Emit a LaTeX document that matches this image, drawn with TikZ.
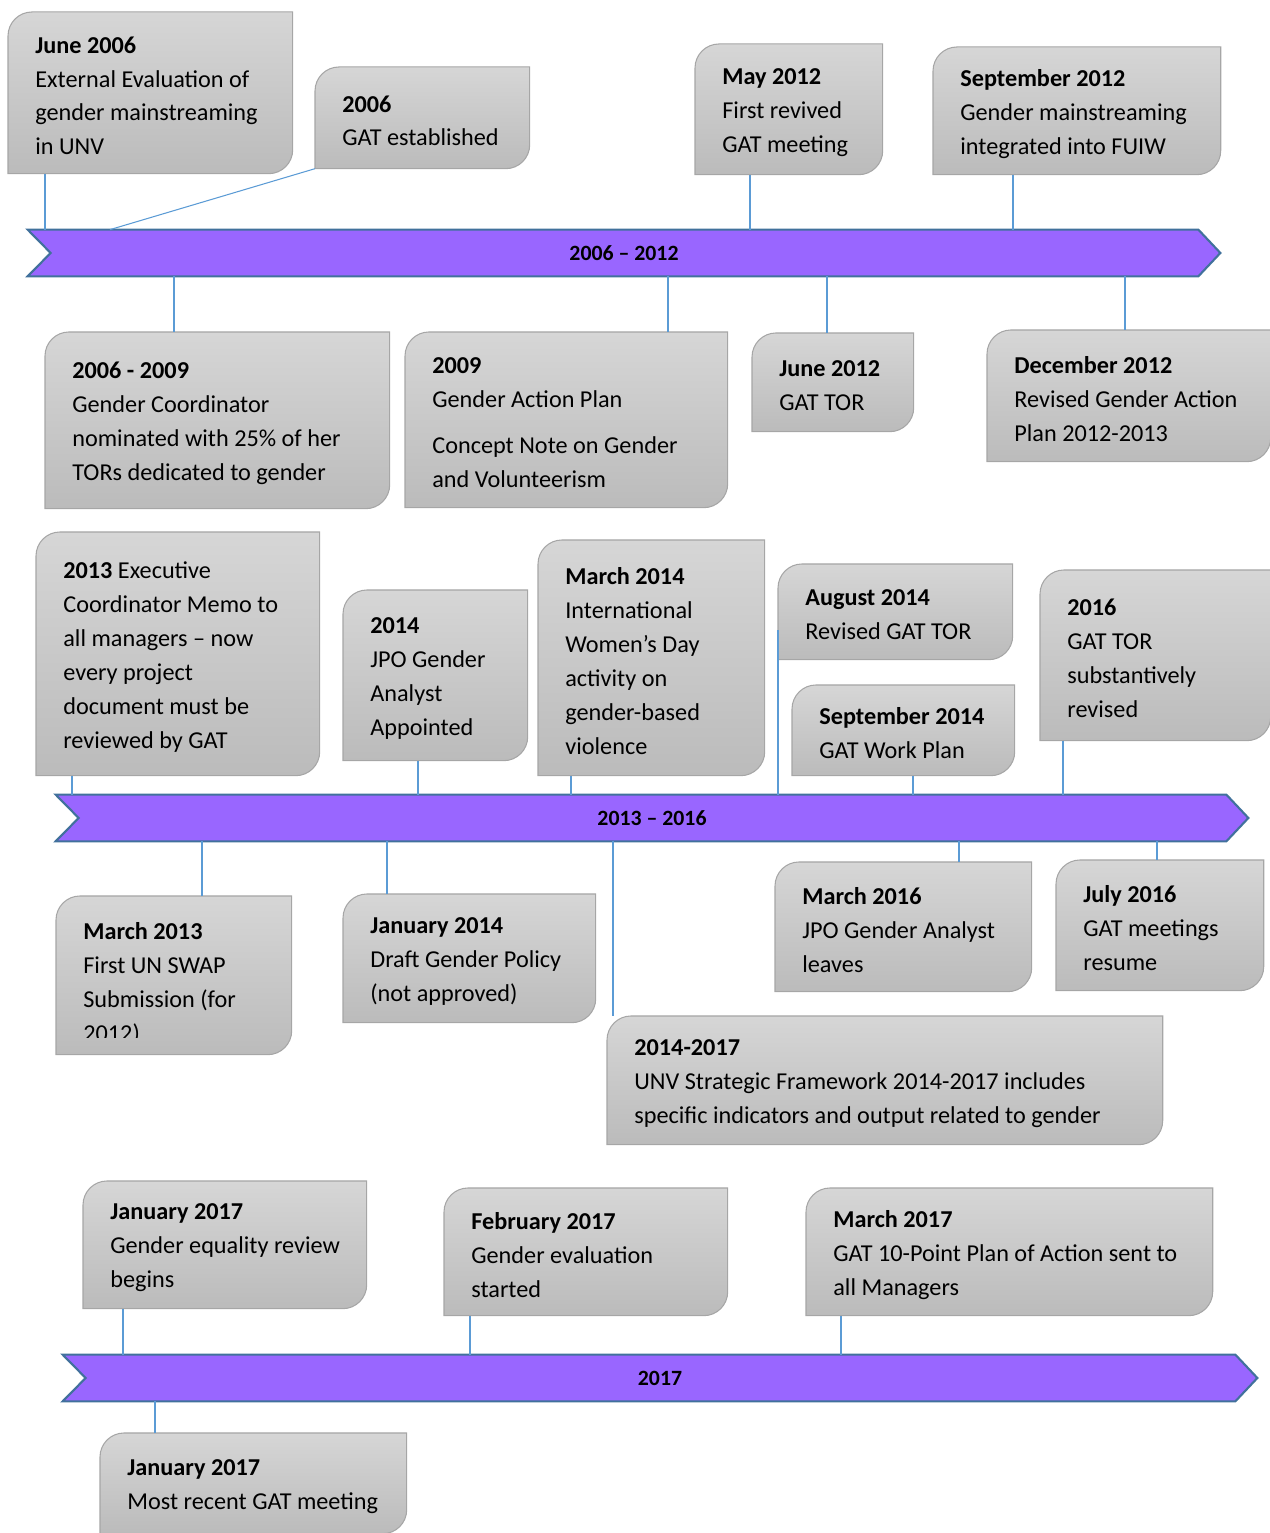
\documentclass[tikz,border=0pt]{standalone}
\usepackage{fontspec}
\setmainfont{Carlito}
\usepackage{tikz}
\usetikzlibrary{positioning, backgrounds}

\definecolor{colBoxTop}{RGB}{214, 214, 214}
\definecolor{colBoxBot}{RGB}{187, 187, 187}
\definecolor{colBoxLine}{RGB}{166, 166, 166}
\definecolor{colBar}{RGB}{153, 102, 255}
\definecolor{colBarLine}{RGB}{65, 113, 156}
\definecolor{colLink}{RGB}{91, 155, 213}

\begin{document}
\begin{tikzpicture}[x=0.02cm, y=0.02cm,
    evbox/.style 2 args={anchor=north west, inner sep=0pt,
        minimum width=#1*0.02cm, minimum height=#2*0.02cm},
    evtext/.style={align=left, inner sep=0pt, yshift=-0.06cm,
        font=\fontsize{13.8}{19.3}\selectfont},
    bar/.style={inner sep=0pt, minimum width=#1*0.02cm, minimum height=0.92cm,
        font=\bfseries\fontsize{12.4}{14}\selectfont},
    boxshape/.style={draw=colBoxLine, line width=0.6pt,
        top color=colBoxTop, bottom color=colBoxBot},
    barshape/.style={draw=colBarLine, fill=colBar, line width=1.2pt, line join=miter},
    link/.style={draw=colLink, line width=0.6pt}]
    \useasboundingbox (0,0) rectangle (1269,1533);

    % --- 2006 - 2012 ---
    \node[bar=1192] (bar1) at (624,1280) {2006 – 2012};

    \node[evbox={284}{161}] (jun06) at (8,1521) {};
    \node[evtext, right=0.54cm of jun06.west] (jun06t) {\textbf{June 2006}\\External Evaluation of\\gender mainstreaming\\in UNV};
    \node[evbox={214}{101}] (gat06) at (315,1466) {};
    \node[evtext, right=0.54cm of gat06.west] (gat06t) {\textbf{2006}\\GAT established};
    \node[evbox={187}{130}] (may12) at (695,1489) {};
    \node[evtext, right=0.54cm of may12.west] (may12t) {\textbf{May 2012}\\First revived\\GAT meeting};
    \node[evbox={287}{127}] (sep12) at (933,1486) {};
    \node[evtext, right=0.54cm of sep12.west] (sep12t) {\textbf{September 2012}\\Gender mainstreaming\\integrated into FUIW};

    \node[evbox={344}{176}] (c0609) at (45,1201) {};
    \node[evtext, right=0.54cm of c0609.west] (c0609t) {\textbf{2006 - 2009}\\Gender Coordinator\\nominated with 25\% of her\\TORs dedicated to gender};
    \node[evbox={322}{175}] (gap09) at (405,1201) {};
    \node[evtext, right=0.54cm of gap09.west] (gap09t) {\textbf{2009}\\Gender Action Plan\\[6.8pt]Concept Note on Gender\\and Volunteerism};
    \node[evbox={161}{98}] (jun12) at (752,1200) {};
    \node[evtext, right=0.54cm of jun12.west] (jun12t) {\textbf{June 2012}\\GAT TOR};
    \node[evbox={283}{131}] (dec12) at (987,1203) {};
    \node[evtext, right=0.54cm of dec12.west] (dec12t) {\textbf{December 2012}\\Revised Gender Action\\Plan 2012-2013};

    % --- 2013 - 2016 ---
    \node[bar=1192] (bar2) at (652,715) {2013 – 2016};

    \node[evbox={283}{243}] (exec13) at (36,1001) {};
    \node[evtext, right=0.54cm of exec13.west] (exec13t) {\textbf{2013} Executive\\Coordinator Memo to\\all managers – now\\every project\\document must be\\reviewed by GAT};
    \node[evbox={184}{170}] (jpo14) at (343,943) {};
    \node[evtext, right=0.54cm of jpo14.west] (jpo14t) {\textbf{2014}\\JPO Gender\\Analyst\\Appointed};
    \node[evbox={226}{235}] (iwd14) at (538,993) {};
    \node[evtext, right=0.54cm of iwd14.west] (iwd14t) {\textbf{March 2014}\\International\\Women’s Day\\activity on\\gender-based\\violence};
    \node[evbox={234}{95}] (aug14) at (778,969) {};
    \node[evtext, right=0.54cm of aug14.west] (aug14t) {\textbf{August 2014}\\Revised GAT TOR};
    \node[evbox={222}{90}] (sep14) at (792,848) {};
    \node[evtext, right=0.54cm of sep14.west] (sep14t) {\textbf{September 2014}\\GAT Work Plan};
    \node[evbox={230}{170}] (tor16) at (1040,963) {};
    \node[evtext, right=0.54cm of tor16.west] (tor16t) {\textbf{2016}\\GAT TOR\\substantively\\revised};

    \node[evbox={235}{158}] (swap13) at (56,637) {};
    \begin{scope}
        \clip (swap13.north west) rectangle ([yshift=0.34cm]swap13.south east);
        \node[evtext, right=0.54cm of swap13.west, yshift=-0.1cm] (swap13t) {\textbf{March 2013}\\First UN SWAP\\Submission (for\\2012)};
    \end{scope}
    \node[evbox={252}{128}] (pol14) at (343,639) {};
    \node[evtext, right=0.54cm of pol14.west] (pol14t) {\textbf{January 2014}\\Draft Gender Policy\\(not approved)};
    \node[evbox={555}{128}] (frm14) at (607,517) {};
    \node[evtext, right=0.54cm of frm14.west] (frm14t) {\textbf{2014-2017}\\UNV Strategic Framework 2014-2017 includes\\specific indicators and output related to gender};
    \node[evbox={256}{129}] (jpo16) at (775,671) {};
    \node[evtext, right=0.54cm of jpo16.west] (jpo16t) {\textbf{March 2016}\\JPO Gender Analyst\\leaves};
    \node[evbox={207}{130}] (gat16) at (1056,673) {};
    \node[evtext, right=0.54cm of gat16.west] (gat16t) {\textbf{July 2016}\\GAT meetings\\resume};

    % --- 2017 ---
    \node[bar=1194] (bar3) at (660,155) {2017};

    \node[evbox={283}{127}] (rev17) at (83,352) {};
    \node[evtext, right=0.54cm of rev17.west] (rev17t) {\textbf{January 2017}\\Gender equality review\\begins};
    \node[evbox={283}{127}] (eva17) at (444,345) {};
    \node[evtext, right=0.54cm of eva17.west] (eva17t) {\textbf{February 2017}\\Gender evaluation\\started};
    \node[evbox={406}{127}] (pla17) at (806,345) {};
    \node[evtext, right=0.54cm of pla17.west] (pla17t) {\textbf{March 2017}\\GAT 10-Point Plan of Action sent to\\all Managers};
    \node[evbox={306}{100}] (mtg17) at (100,100) {};
    \node[evtext, right=0.54cm of mtg17.west] (mtg17t) {\textbf{January 2017}\\Most recent GAT meeting};

    % Connectors to the bars
    \foreach \b/\x in {jun06/45, may12/750, sep12/1013}
        \draw[link] (\b.south -| \x,0) -- (bar1.north -| \x,0);
    \draw[link] (gat06.south west) -- (bar1.north -| 110,0);
    \foreach \b/\x in {c0609/174, gap09/668, jun12/827, dec12/1125}
        \draw[link] (bar1.south -| \x,0) -- (\b.north -| \x,0);
    \foreach \b/\x in {exec13/72, jpo14/418, iwd14/571, sep14/913, tor16/1063}
        \draw[link] (\b.south -| \x,0) -- (bar2.north -| \x,0);
    \draw[link] ([yshift=-0.37cm]aug14.west) -- (bar2.north -| aug14.west);
    \foreach \b/\x in {swap13/202, pol14/387, frm14/613, jpo16/959, gat16/1157}
        \draw[link] (bar2.south -| \x,0) -- (\b.north -| \x,0);
    \foreach \b/\x in {rev17/123, eva17/470, pla17/841}
        \draw[link] (\b.south -| \x,0) -- (bar3.north -| \x,0);
    \draw[link] (bar3.south -| 155,0) -- (mtg17.north -| 155,0);

    % Shapes behind the texts
    \begin{pgfonlayer}{background}
        \foreach \b in {jun06, gat06, may12, sep12, c0609, gap09, jun12, dec12,
                exec13, jpo14, iwd14, aug14, sep14, tor16,
                swap13, pol14, frm14, jpo16, gat16, rev17, eva17, pla17, mtg17} {
            \draw[boxshape] (\b.south west) -- ([yshift=-0.48cm]\b.north west)
                arc[start angle=180, end angle=90, radius=0.48cm] -- (\b.north east)
                -- ([yshift=0.48cm]\b.south east)
                arc[start angle=0, end angle=-90, radius=0.48cm] -- cycle;
        }
        \foreach \b in {bar1, bar2, bar3} {
            \draw[barshape] (\b.north west) -- ([xshift=-0.44cm]\b.north east)
                -- (\b.east) -- ([xshift=-0.44cm]\b.south east)
                -- (\b.south west) -- ([xshift=0.46cm]\b.west) -- cycle;
        }
    \end{pgfonlayer}
\end{tikzpicture}
\end{document}
